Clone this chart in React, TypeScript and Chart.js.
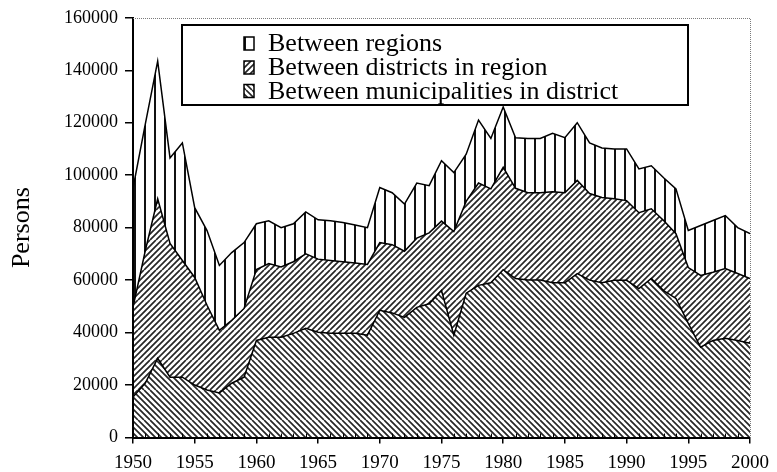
import React, { useEffect, useRef } from 'react';
import { Chart, registerables } from 'chart.js';

Chart.register(...registerables);

const years = [
  1950, 1951, 1952, 1953, 1954, 1955, 1956, 1957, 1958, 1959,
  1960, 1961, 1962, 1963, 1964, 1965, 1966, 1967, 1968, 1969,
  1970, 1971, 1972, 1973, 1974, 1975, 1976, 1977, 1978, 1979,
  1980, 1981, 1982, 1983, 1984, 1985, 1986, 1987, 1988, 1989,
  1990, 1991, 1992, 1993, 1994, 1995, 1996, 1997, 1998, 1999,
  2000,
];

const municipalities = [
  15400, 20700, 30200, 23000, 23000, 20000, 18100, 17000, 20700, 23000,
  37000, 38200, 38200, 39700, 41600, 40100, 39700, 39700, 39700, 39000,
  48500, 47500, 45800, 49600, 51000, 56000, 39000, 55000, 58000, 59000,
  64000, 60600, 60000, 60000, 59000, 59000, 62500, 60000, 59000, 59900,
  59900, 56800, 60600, 56000, 53000, 43500, 34400, 37000, 37800, 37000,
  35900,
];

const districts = [
  34200, 50600, 60800, 51000, 44500, 41000, 32300, 23900, 24000, 26200,
  27000, 28100, 26800, 27300, 28400, 27900, 27800, 27300, 26800, 27000,
  25800, 26000, 25200, 26400, 27000, 26500, 39500, 35000, 39000, 35800,
  39000, 34400, 33300, 33300, 34700, 34300, 35500, 33000, 32500, 31100,
  30400, 28900, 26600, 26700, 24700, 21300, 27400, 26000, 26600, 25500,
  24700,
];

const regions = [
  45400, 48300, 52500, 32600, 44800, 26600, 28500, 24700, 25800, 25100,
  17500, 16300, 15000, 14500, 16000, 15000, 15100, 15000, 14500, 14000,
  21000, 19800, 18000, 21000, 18000, 23000, 22500, 18000, 24000, 19200,
  23000, 19300, 20700, 20700, 22300, 21000, 22000, 19300, 18900, 19000,
  19700, 16700, 16400, 16300, 17100, 14100, 19000, 19700, 20200, 17500,
  17100,
];

const seriesLabels = [
  'Between regions',
  'Between districts in region',
  'Between municipalities in district',
];

const yAxisTitle = 'Persons';
const xMin = 1950;
const xMax = 2000;
const xStep = 5;
const yMin = 0;
const yMax = 160000;
const yStep = 20000;

const FONT = "'Liberation Serif', 'Times New Roman', serif";

function makePattern(kind: 'v' | 'up' | 'down'): CanvasPattern | string {
  const size = kind === 'v' ? 10 : 30;
  const c = document.createElement('canvas');
  c.width = size;
  c.height = size;
  const g = c.getContext('2d');
  if (!g) return '#fff';
  g.fillStyle = '#ffffff';
  g.fillRect(0, 0, size, size);
  if (kind === 'v') {
    g.strokeStyle = '#111111';
    g.lineWidth = 2;
    g.beginPath();
    g.moveTo(5, 0);
    g.lineTo(5, size);
    g.stroke();
  } else {
    g.strokeStyle = '#262626';
    g.lineWidth = 1.7;
    const step = 6;
    g.beginPath();
    for (let c0 = -size; c0 <= 2 * size; c0 += step) {
      if (kind === 'up') {
        g.moveTo(c0, size);
        g.lineTo(c0 + size, 0);
      } else {
        g.moveTo(c0, 0);
        g.lineTo(c0 + size, size);
      }
    }
    g.stroke();
  }
  return g.createPattern(c, 'repeat') || '#fff';
}

export default function App() {
  const ref = useRef<HTMLCanvasElement>(null);

  useEffect(() => {
    if (!ref.current) return;
    const pV = makePattern('v');
    const pUp = makePattern('up');
    const pDown = makePattern('down');
    const legendFills = [pV, pUp, pDown];

    const toPts = (arr: number[]) => years.map((yr, i) => ({ x: yr, y: arr[i] }));

    const decor = {
      id: 'decor',
      afterDraw(chart: any) {
        const { ctx, chartArea: a, scales } = chart;
        const xs = scales.x;
        ctx.save();
        // dotted frame top & right
        ctx.strokeStyle = '#7a7a7a';
        ctx.lineWidth = 1;
        ctx.setLineDash([1, 1]);
        ctx.beginPath();
        ctx.moveTo(a.left, Math.round(a.top) + 0.5);
        ctx.lineTo(Math.round(a.right) + 0.5, Math.round(a.top) + 0.5);
        ctx.lineTo(Math.round(a.right) + 0.5, a.bottom);
        ctx.stroke();
        ctx.setLineDash([]);
        // minor yearly ticks
        ctx.strokeStyle = '#000';
        ctx.lineWidth = 1;
        for (const yr of years) {
          if (yr % xStep === 0) continue;
          const x = Math.round(xs.getPixelForValue(yr)) + 0.5;
          ctx.beginPath();
          ctx.moveTo(x, a.bottom);
          ctx.lineTo(x, a.bottom - 4);
          ctx.stroke();
        }
        // legend box
        const bx = 182, by = 25, bw = 506, bh = 80;
        ctx.fillStyle = '#fff';
        ctx.fillRect(bx, by, bw, bh);
        ctx.strokeStyle = '#000';
        ctx.lineWidth = 2;
        ctx.strokeRect(bx, by, bw, bh);
        const baselines = [51, 75, 98.5];
        ctx.font = `26px ${FONT}`;
        ctx.textBaseline = 'alphabetic';
        ctx.textAlign = 'left';
        seriesLabels.forEach((lab, i) => {
          const base = baselines[i];
          ctx.fillStyle = legendFills[i] as any;
          ctx.fillRect(244, base - 14, 10, 13);
          ctx.lineWidth = 1.5;
          ctx.strokeStyle = '#000';
          ctx.strokeRect(244, base - 14, 10, 13);
          ctx.fillStyle = '#000';
          ctx.fillText(lab, 268, base);
        });
        ctx.restore();
      },
    };

    const chart = new Chart(ref.current, {
      type: 'line',
      data: {
        datasets: [
          {
            label: seriesLabels[2],
            data: toPts(municipalities),
            backgroundColor: pDown as any,
            borderColor: '#000',
            borderWidth: 1.5,
            pointRadius: 0,
            fill: 'origin',
            tension: 0,
          },
          {
            label: seriesLabels[1],
            data: toPts(districts),
            backgroundColor: pUp as any,
            borderColor: '#000',
            borderWidth: 1.5,
            pointRadius: 0,
            fill: '-1',
            tension: 0,
          },
          {
            label: seriesLabels[0],
            data: toPts(regions),
            backgroundColor: pV as any,
            borderColor: '#000',
            borderWidth: 1.5,
            pointRadius: 0,
            fill: '-1',
            tension: 0,
          },
        ],
      },
      options: {
        responsive: false,
        animation: false,
        layout: { padding: { left: 0, top: 17, right: 18, bottom: 0 } },
        plugins: {
          legend: { display: false },
          tooltip: { enabled: false },
        },
        scales: {
          x: {
            type: 'linear',
            min: xMin,
            max: xMax,
            afterFit: (s: any) => {
              s.height = 34.5;
            },
            ticks: {
              stepSize: xStep,
              color: '#000',
              font: { family: FONT, size: 19 },
              padding: 8,
              maxRotation: 0,
              autoSkip: false,
              callback: (v: any) => String(v),
            },
            grid: {
              drawOnChartArea: false,
              drawTicks: true,
              tickLength: 6,
              color: '#000',
              lineWidth: 1.5,
            },
            border: { display: true, color: '#000', width: 2, z: 1 },
          },
          y: {
            stacked: true,
            min: yMin,
            max: yMax,
            afterFit: (s: any) => {
              s.width = 133;
            },
            ticks: {
              stepSize: yStep,
              color: '#000',
              font: { family: FONT, size: 18 },
              padding: 7,
              callback: (v: any) => String(v),
            },
            grid: {
              drawOnChartArea: false,
              drawTicks: true,
              tickLength: 8,
              color: '#000',
              lineWidth: 1.5,
            },
            border: { display: true, color: '#000', width: 2, z: 1 },
            title: {
              display: true,
              text: yAxisTitle,
              color: '#000',
              font: { family: FONT, size: 26 },
              padding: { top: 7, bottom: 0 },
            },
          },
        },
      },
      plugins: [decor],
    } as any);

    return () => chart.destroy();
  }, []);

  return (
    <div style={{ position: 'fixed', left: 0, top: 0, width: 777, height: 472, background: '#fff' }}>
      <canvas ref={ref} width={777} height={472} style={{ display: 'block' }} />
    </div>
  );
}
